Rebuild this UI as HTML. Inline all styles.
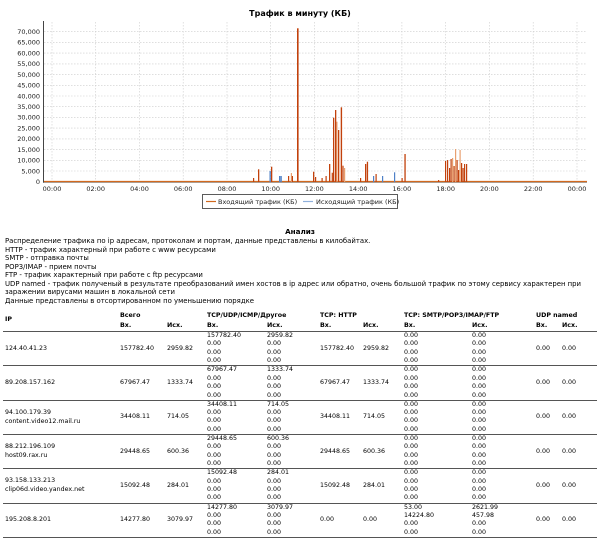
<!DOCTYPE html>
<html style="overflow:hidden;height:541px"><head><meta charset="utf-8"><style>
body{margin:0;width:600px;height:541px;overflow:hidden;background:#fff;font-family:"DejaVu Sans","Liberation Sans",sans-serif;position:relative}
.t{position:absolute;font-size:6.3px;line-height:8px;white-space:nowrap;color:#000}
.i{font-size:6.9px}
.b{font-weight:bold}
.sep{position:absolute;left:3px;width:594px;height:0;border-top:1.5px solid #555}
</style></head><body>
<svg width="600" height="215" style="position:absolute;left:0;top:0" font-family="DejaVu Sans, sans-serif">
<text x="300" y="16" font-size="8" font-weight="bold" text-anchor="middle">Трафик в минуту (КБ)</text>
<g stroke="#ccc" stroke-width="0.6" stroke-dasharray="1.5,1.5">
<line x1="44" x2="587" y1="31.7" y2="31.7"/><line x1="44" x2="587" y1="42.4" y2="42.4"/><line x1="44" x2="587" y1="53.1" y2="53.1"/><line x1="44" x2="587" y1="63.9" y2="63.9"/><line x1="44" x2="587" y1="74.6" y2="74.6"/><line x1="44" x2="587" y1="85.3" y2="85.3"/><line x1="44" x2="587" y1="96" y2="96"/><line x1="44" x2="587" y1="106.7" y2="106.7"/><line x1="44" x2="587" y1="117.4" y2="117.4"/><line x1="44" x2="587" y1="128.1" y2="128.1"/><line x1="44" x2="587" y1="138.9" y2="138.9"/><line x1="44" x2="587" y1="149.6" y2="149.6"/><line x1="44" x2="587" y1="160.3" y2="160.3"/><line x1="44" x2="587" y1="171" y2="171"/>
<line y1="22" y2="182" x1="52" x2="52"/><line y1="22" y2="182" x1="95.7" x2="95.7"/><line y1="22" y2="182" x1="139.5" x2="139.5"/><line y1="22" y2="182" x1="183.2" x2="183.2"/><line y1="22" y2="182" x1="227" x2="227"/><line y1="22" y2="182" x1="270.7" x2="270.7"/><line y1="22" y2="182" x1="314.4" x2="314.4"/><line y1="22" y2="182" x1="358.2" x2="358.2"/><line y1="22" y2="182" x1="401.9" x2="401.9"/><line y1="22" y2="182" x1="445.7" x2="445.7"/><line y1="22" y2="182" x1="489.4" x2="489.4"/><line y1="22" y2="182" x1="533.2" x2="533.2"/><line y1="22" y2="182" x1="577" x2="577"/>
</g>
<line x1="43.5" x2="43.5" y1="21" y2="183" stroke="#444" stroke-width="1"/>
<line x1="43" x2="587" y1="182.5" y2="182.5" stroke="#888" stroke-width="0.7"/>
<g font-size="6.5" text-anchor="end" fill="#222">
<text x="40" y="34">70,000</text><text x="40" y="44.7">65,000</text><text x="40" y="55.4">60,000</text><text x="40" y="66.2">55,000</text><text x="40" y="76.9">50,000</text><text x="40" y="87.6">45,000</text><text x="40" y="98.3">40,000</text><text x="40" y="109">35,000</text><text x="40" y="119.7">30,000</text><text x="40" y="130.4">25,000</text><text x="40" y="141.2">20,000</text><text x="40" y="151.9">15,000</text><text x="40" y="162.6">10,000</text><text x="40" y="173.3">5,000</text><text x="40" y="184">0</text>
</g>
<g font-size="6.5" text-anchor="middle" fill="#222">
<text x="52" y="191">00:00</text><text x="95.7" y="191">02:00</text><text x="139.5" y="191">04:00</text><text x="183.2" y="191">06:00</text><text x="227" y="191">08:00</text><text x="270.7" y="191">10:00</text><text x="314.4" y="191">12:00</text><text x="358.2" y="191">14:00</text><text x="401.9" y="191">16:00</text><text x="445.7" y="191">18:00</text><text x="489.4" y="191">20:00</text><text x="533.2" y="191">22:00</text><text x="577" y="191">00:00</text>
</g>
<line x1="44" x2="587" y1="181.5" y2="181.5" stroke="#d2691e" stroke-width="1.2"/>
<g fill="#4f81c7">
<rect x="269.5" y="171" width="1.3" height="11"/><rect x="279" y="176" width="1.3" height="6"/><rect x="280.5" y="176" width="1.3" height="6"/><rect x="373" y="176" width="1.2" height="6"/><rect x="382" y="176" width="1.2" height="6"/><rect x="394" y="172.3" width="1.2" height="9.7"/>
</g>
<g fill="#e8a070">
<rect x="336.2" y="121.7" width="1.3" height="60"/><rect x="290.8" y="173" width="1.2" height="9"/><rect x="344" y="168" width="1.2" height="14"/><rect x="455" y="149" width="1.2" height="33"/><rect x="459.5" y="150" width="1.2" height="32"/><rect x="452" y="158" width="1.2" height="24"/>
</g>
<g fill="#c2410c">
<rect x="253" y="178" width="1.2" height="4"/><rect x="258" y="169.3" width="1.3" height="12.7"/><rect x="271" y="166.7" width="1.3" height="15.3"/><rect x="288" y="176" width="1.2" height="6"/><rect x="291.8" y="176" width="1.2" height="6"/><rect x="297" y="28.3" width="1.6" height="153.7"/><rect x="313" y="171.7" width="1.3" height="10.3"/><rect x="315" y="177" width="1.2" height="5"/><rect x="321.5" y="178" width="1.2" height="4"/><rect x="325.5" y="176" width="1.2" height="6"/><rect x="329" y="164" width="1.3" height="18"/><rect x="331.7" y="172.7" width="1.2" height="9.3"/><rect x="333" y="117.7" width="1.3" height="64.3"/><rect x="335" y="110" width="1.3" height="72"/><rect x="338" y="130" width="1.3" height="52"/><rect x="340.7" y="107.3" width="1.4" height="74.7"/><rect x="342.4" y="165.7" width="1.2" height="16.3"/><rect x="360" y="178" width="1.2" height="4"/><rect x="365" y="164" width="1.3" height="18"/><rect x="366.8" y="161.7" width="1.3" height="20.3"/><rect x="375.5" y="174" width="1.2" height="8"/><rect x="401.5" y="178" width="1.2" height="4"/><rect x="404.4" y="154" width="1.3" height="28"/><rect x="438" y="180" width="1.2" height="2"/>
<rect x="445" y="161" width="1.2" height="21"/><rect x="447" y="160" width="1.2" height="22"/><rect x="449" y="168" width="1.2" height="14"/><rect x="450.5" y="159" width="1.2" height="23"/><rect x="453.5" y="166" width="1.2" height="16"/><rect x="456.5" y="160" width="1.2" height="22"/><rect x="458" y="170" width="1.2" height="12"/><rect x="461" y="163" width="1.2" height="19"/><rect x="462.5" y="168" width="1.2" height="14"/><rect x="464" y="164" width="1.2" height="18"/><rect x="466" y="164" width="1.2" height="18"/>
</g>
<rect x="202.5" y="194.5" width="195" height="14" fill="#fff" stroke="#333" stroke-width="0.8"/>
<line x1="206" x2="216" y1="201.5" y2="201.5" stroke="#d2691e" stroke-width="1.2"/>
<line x1="303" x2="313" y1="201.5" y2="201.5" stroke="#8fb0dc" stroke-width="1.2"/>
<g font-size="6.5" fill="#222"><text x="218" y="204">Входящий трафик (КБ)</text><text x="316" y="204">Исходящий трафик (КБ)</text></g>
</svg>

<div class="t b" style="left:0;width:600px;text-align:center;top:228px;font-size:7.2px">Анализ</div>
<div class="t i" style="left:5px;top:237px">Распределение трафика по ip адресам, протоколам и портам, данные представлены в килобайтах.</div>
<div class="t i" style="left:5px;top:245.5px">HTTP - трафик характерный при работе с www ресурсами</div>
<div class="t i" style="left:5px;top:254px">SMTP - отправка почты</div>
<div class="t i" style="left:5px;top:262.5px">POP3/IMAP - прием почты</div>
<div class="t i" style="left:5px;top:271px">FTP - трафик характерный при работе с ftp ресурсами</div>
<div class="t i" style="left:5px;top:279.5px">UDP named - трафик полученый в результате преобразований имен хостов в ip адрес или обратно, очень большой трафик по этому сервису характерен при</div>
<div class="t i" style="left:5px;top:288px">заражении вирусами машин в локальной сети</div>
<div class="t i" style="left:5px;top:296.5px">Данные представлены в отсортированном по уменьшению порядке</div>

<div class="t b" style="left:5px;top:316px">IP</div>
<div class="t b" style="left:120px;top:312px">Всего</div>
<div class="t b" style="left:207px;top:312px">TCP/UDP/ICMP/Другое</div>
<div class="t b" style="left:320px;top:312px">TCP: HTTP</div>
<div class="t b" style="left:404px;top:312px">TCP: SMTP/POP3/IMAP/FTP</div>
<div class="t b" style="left:536px;top:312px">UDP named</div>
<div class="t b" style="left:120px;top:322px">Вх.</div><div class="t b" style="left:167px;top:322px">Исх.</div>
<div class="t b" style="left:207px;top:322px">Вх.</div><div class="t b" style="left:267px;top:322px">Исх.</div>
<div class="t b" style="left:320px;top:322px">Вх.</div><div class="t b" style="left:363px;top:322px">Исх.</div>
<div class="t b" style="left:404px;top:322px">Вх.</div><div class="t b" style="left:472px;top:322px">Исх.</div>
<div class="t b" style="left:536px;top:322px">Вх.</div><div class="t b" style="left:562px;top:322px">Исх.</div>

<div id="rows"></div>
<div class="sep" style="top:536.8px"></div>
<script>
var rows=[
[["124.40.41.23"],"157782.40","2959.82","157782.40","2959.82",["0.00","0.00","0.00","0.00"],["0.00","0.00","0.00","0.00"]],
[["89.208.157.162"],"67967.47","1333.74","67967.47","1333.74",["0.00","0.00","0.00","0.00"],["0.00","0.00","0.00","0.00"]],
[["94.100.179.39","content.video12.mail.ru"],"34408.11","714.05","34408.11","714.05",["0.00","0.00","0.00","0.00"],["0.00","0.00","0.00","0.00"]],
[["88.212.196.109","host09.rax.ru"],"29448.65","600.36","29448.65","600.36",["0.00","0.00","0.00","0.00"],["0.00","0.00","0.00","0.00"]],
[["93.158.133.213","clip06d.video.yandex.net"],"15092.48","284.01","15092.48","284.01",["0.00","0.00","0.00","0.00"],["0.00","0.00","0.00","0.00"]],
[["195.208.8.201"],"14277.80","3079.97","0.00","0.00",["53.00","14224.80","0.00","0.00"],["2621.99","457.98","0.00","0.00"]]
];
var h="",P=34.3;
function d(x,y,s){h+='<div class="t" style="left:'+x+'px;top:'+y+'px">'+s+'</div>';}
rows.forEach(function(r,i){
 var top=331.7+i*P;
 h+='<div class="sep" style="top:'+(top-0.7)+'px"></div>';
 var mid=top+17-4;
 if(r[0].length==1)d(5,mid,r[0][0]);else{d(5,mid-4.5,r[0][0]);d(5,mid+4.5,r[0][1]);}
 d(120,mid,r[1]);d(167,mid,r[2]);
 var a=[r[1],"0.00","0.00","0.00"],b=[r[2],"0.00","0.00","0.00"];
 for(var k=0;k<4;k++){var y=top+0.3+k*8.4;d(207,y,a[k]);d(267,y,b[k]);d(404,y,r[5][k]);d(472,y,r[6][k]);}
 d(320,mid,r[3]);d(363,mid,r[4]);d(536,mid,"0.00");d(562,mid,"0.00");
});
document.getElementById("rows").innerHTML=h;
</script>
</body></html>
